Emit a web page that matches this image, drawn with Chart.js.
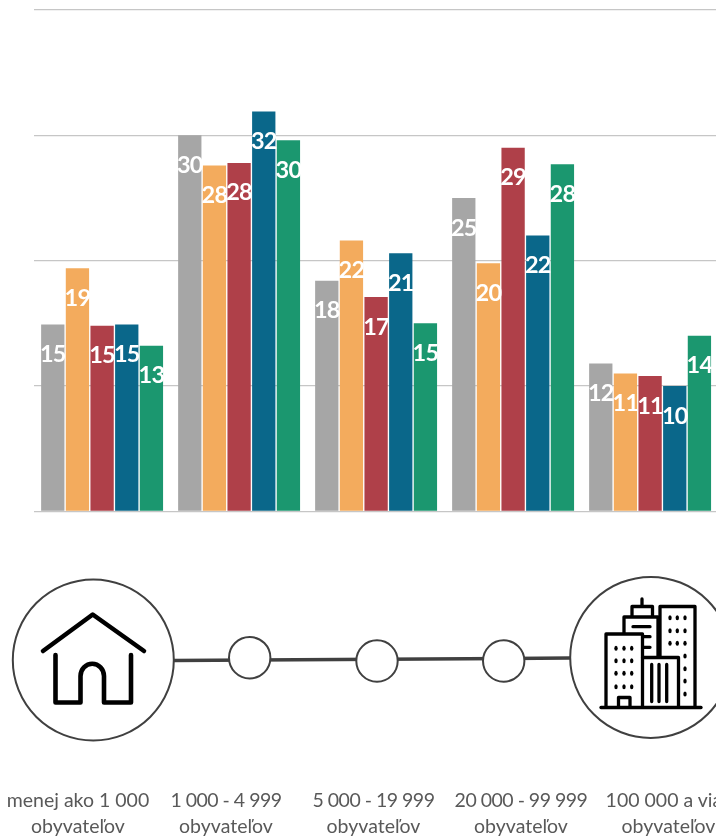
<!DOCTYPE html>
<html lang="sk">
  <head>
    <meta charset="UTF-8" />
    <title>Obyvatelia</title>
    <script src="https://cdn.jsdelivr.net/npm/chart.js"></script>
    <style>
      html, body { margin: 0; padding: 0; background: #fff; overflow: hidden; width: 716px; height: 838px; }
      #wrap { position: relative; width: 716px; height: 838px; overflow: hidden; }
      #chart { position: absolute; left: 0; top: 0; }
      #icons { position: absolute; left: 0; top: 0; }
      .lbl {
        position: absolute; top: 787px; width: 170px; margin-left: -85px;
        font: 19.5px/26px Lato, sans-serif; color: #595959; text-align: center; white-space: nowrap;
      }
    </style>
  </head>
  <body>
    <div id="wrap">
      <canvas id="chart" width="760" height="520" style="width:760px;height:520px"></canvas>
      <svg id="icons" width="716" height="838" fill="none">
        <!-- timeline -->
        <path d="M174 660.5 L570 658" stroke="#404040" stroke-width="3.5" />
        <g fill="#fff" stroke="#404040" stroke-width="2">
          <circle cx="93.3" cy="660" r="80.5" />
          <circle cx="650.7" cy="657.4" r="80.5" />
          <circle cx="249.7" cy="657.7" r="20.7" />
          <circle cx="377" cy="661" r="20.7" />
          <circle cx="503.7" cy="661" r="20.7" />
        </g>
        <!-- house -->
        <g stroke="#000" stroke-width="4.6" stroke-linecap="round" stroke-linejoin="round">
          <path d="M43 651 L92.7 614.5 L144 651" />
          <path d="M55.5 655 V702.5 H80.5 V676 A11.5 12 0 0 1 104 676 V702.5 H131 V655" />
        </g>
        <!-- buildings -->
        <g id="city" stroke="#000" stroke-width="3.3" stroke-linecap="round" stroke-linejoin="round">
          <path d="M601 707.5 H701" />
          <path d="M606 707 V634 H642.5 V707" />
          <path d="M624 633 V617 H658 V657" />
          <path d="M632 616 V606.5 H652.5 V616" />
          <path d="M642 606 V599" />
          <path d="M660 657 V606.5 H695 V707" />
          <path d="M642.5 657.5 H678.5 V707" />
          <path d="M618.5 707 V697.5 H630 V707" />
          <path d="M633 626.7 H650 M643 636.7 H650 M643 647.3 H650" />
          <path d="M651.7 664.5 V701.5 M659 664.5 V701.5 M666.7 664.5 V701.5" />
        </g>
      </svg>
    </div>
    <script>
      const categories = ["menej ako 1 000", "1 000 - 4 999", "5 000 - 19 999", "20 000 - 99 999", "100 000 a viac"];
      const unit = "obyvateľov";
      const seriesA = [14.9, 30.0, 18.4, 25.0, 11.8];
      const seriesB = [19.4, 27.6, 21.6, 19.8, 11.0];
      const seriesC = [14.8, 27.8, 17.1, 29.0, 10.8];
      const seriesD = [14.9, 31.9, 20.6, 22.0, 10.0];
      const seriesE = [13.2, 29.6, 15.0, 27.7, 14.0];
      const yTicks = [0, 10, 20, 30, 40];

      // data labels sit a fixed distance under the top of each bar
      const barLabels = {
        id: "barLabels",
        afterDatasetsDraw(chart) {
          const ctx = chart.ctx;
          ctx.save();
          ctx.font = "bold 23.5px Lato, sans-serif";
          ctx.letterSpacing = "-0.8px";
          ctx.fillStyle = "#fff";
          ctx.textAlign = "center";
          ctx.textBaseline = "middle";
          chart.data.datasets.forEach((ds, i) => {
            chart.getDatasetMeta(i).data.forEach((bar, j) => {
              ctx.fillText(Math.round(ds.data[j]), bar.x, bar.y + 30);
            });
          });
          ctx.restore();
        },
      };

      const mk = (data, color) => ({ data, backgroundColor: color, barPercentage: 0.945, categoryPercentage: 0.9 });

      new Chart(document.getElementById("chart"), {
        type: "bar",
        data: {
          labels: categories,
          datasets: [
            mk(seriesA, "#a6a6a6"),
            mk(seriesB, "#f3ab5d"),
            mk(seriesC, "#af4049"),
            mk(seriesD, "#0a678a"),
            mk(seriesE, "#1b976f"),
          ],
        },
        options: {
          responsive: false,
          animation: false,
          layout: { padding: { left: 33.6, right: 41.4, top: 10, bottom: 0.7 } },
          plugins: { legend: { display: false }, tooltip: { enabled: false } },
          scales: {
            x: { grid: { display: false }, border: { display: false }, ticks: { display: false } },
            y: {
              min: 0,
              max: 40,
              afterBuildTicks: (axis) => { axis.ticks = yTicks.map((value) => ({ value })); },
              grid: { color: "#c6c6c6", lineWidth: 1.3, drawTicks: false },
              border: { display: false },
              ticks: { display: false },
            },
          },
        },
        plugins: [barLabels],
      });

      // place labels under the timeline
      const labelX = [78, 226, 373.5, 521, 668.5];
      categories.forEach((c, i) => {
        const d = document.createElement("div");
        d.className = "lbl";
        d.style.left = labelX[i] + "px";
        const first = document.createElement("span");
        first.textContent = c;
        // digits are wider in Lato than in the original font, tighten the ranges
        if (c.includes(" - ")) first.style.letterSpacing = "-0.5px";
        d.appendChild(first);
        d.appendChild(document.createElement("br"));
        d.appendChild(document.createTextNode(unit));
        document.getElementById("wrap").appendChild(d);
      });

      // window dots on the buildings
      const city = document.getElementById("city");
      const dot = (x, y) => {
        const e = document.createElementNS("http://www.w3.org/2000/svg", "ellipse");
        e.setAttribute("cx", x); e.setAttribute("cy", y);
        e.setAttribute("rx", 1.7); e.setAttribute("ry", 2.5);
        e.setAttribute("fill", "#000"); e.setAttribute("stroke", "none");
        city.appendChild(e);
      };
      [648.3, 660.7, 673.3, 686.7].forEach((y) => [616, 624, 631.7].forEach((x) => dot(x, y)));
      [617.7, 630.7, 643.3].forEach((y) => [670, 677.3, 685].forEach((x) => dot(x, y)));
      [656, 668.7, 681, 694].forEach((y) => dot(685, y));
    </script>
  </body>
</html>
